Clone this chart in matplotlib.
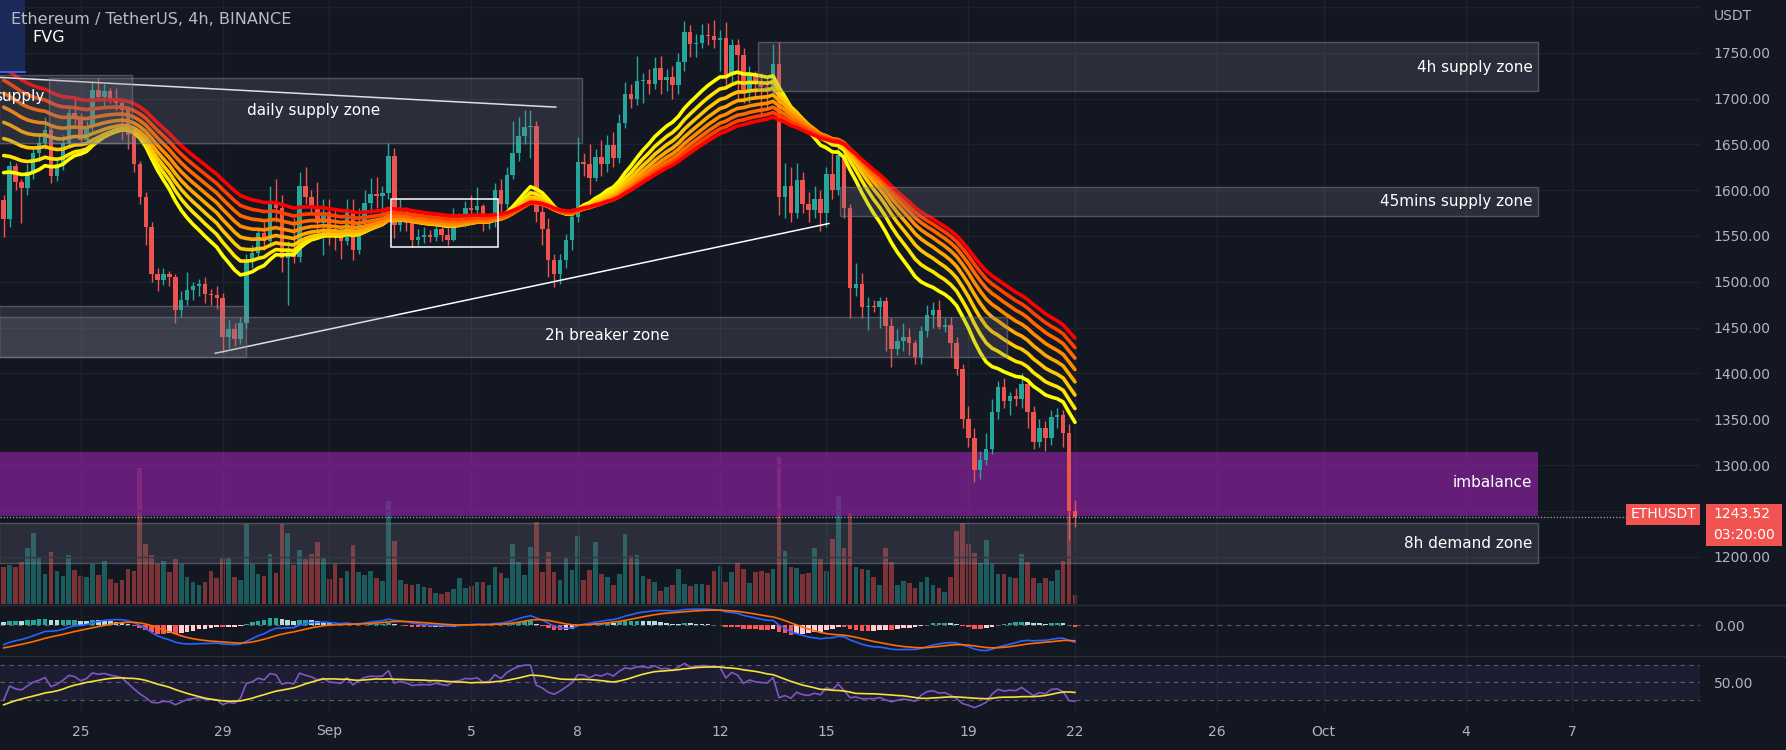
import numpy as np
import pandas as pd
import matplotlib
matplotlib.use("Agg")
import matplotlib.pyplot as plt
from matplotlib.patches import Rectangle
from matplotlib.lines import Line2D

plt.rcParams['font.family'] = ['DejaVu Sans']

BG = '#131722'
GRID = '#1e222d'
TXT = '#b2b5be'
UP = '#26a69a'
DN = '#ef5350'

# ETHUSDT 4h candles, 2022-08-22 20:00 -> 2022-09-22 00:00
# closes before the first visible candle (only used to warm up the indicators)
warmup_close = [1985, 1975, 1960, 1945, 1935, 1930,
                1920, 1900, 1910, 1890, 1905, 1900,
                1895, 1880, 1870, 1885, 1875, 1878,
                1870, 1860, 1840, 1830, 1835, 1830,
                1845, 1850, 1860, 1855, 1845, 1840,
                1800, 1740, 1680, 1640, 1620, 1610,
                1600, 1585, 1570, 1580, 1575, 1570,
                1580, 1600, 1610, 1620, 1615, 1620,
                1605, 1580, 1560, 1575, 1589]

close = [1568, 1626, 1609, 1602, 1620, 1640, 1651, 1666, 1615, 1628,
         1651, 1684, 1678, 1655, 1669, 1709, 1702, 1708, 1700, 1695,
         1688, 1660, 1629, 1593, 1560, 1508, 1502, 1509, 1505, 1469,
         1480, 1491, 1495, 1498, 1487, 1486, 1482, 1440, 1448, 1438,
         1455, 1522, 1531, 1553, 1544, 1586, 1580, 1526, 1535, 1527,
         1605, 1592, 1583, 1564, 1576, 1553, 1549, 1544, 1578, 1535,
         1564, 1586, 1596, 1594, 1597, 1637, 1562, 1575, 1564, 1546,
         1549, 1551, 1549, 1558, 1551, 1546, 1566, 1569, 1580, 1578,
         1583, 1566, 1569, 1600, 1585, 1617, 1640, 1659, 1669, 1670,
         1576, 1558, 1524, 1508, 1524, 1546, 1571, 1631, 1629, 1613,
         1636, 1629, 1649, 1635, 1673, 1705, 1700, 1719, 1720, 1716,
         1733, 1720, 1724, 1715, 1740, 1773, 1760, 1761, 1769, 1768,
         1764, 1766, 1726, 1758, 1747, 1707, 1726, 1717, 1713, 1711,
         1738, 1593, 1605, 1575, 1611, 1585, 1578, 1590, 1575, 1618,
         1600, 1638, 1580, 1493, 1498, 1473, 1474, 1472, 1479, 1452,
         1427, 1435, 1440, 1433, 1418, 1446, 1464, 1469, 1451, 1453,
         1433, 1405, 1350, 1330, 1295, 1305, 1318, 1358, 1385, 1370,
         1375, 1372, 1388, 1358, 1325, 1340, 1330, 1352, 1355, 1335,
         1250, 1243.52]

high = [1595, 1632, 1630, 1612, 1628, 1648, 1662, 1680, 1670, 1635,
        1660, 1690, 1700, 1684, 1676, 1718, 1722, 1716, 1712, 1712,
        1700, 1692, 1668, 1632, 1598, 1565, 1515, 1515, 1512, 1508,
        1490, 1511, 1500, 1503, 1505, 1492, 1495, 1488, 1458, 1455,
        1462, 1530, 1540, 1560, 1565, 1604, 1612, 1595, 1545, 1570,
        1620, 1625, 1600, 1609, 1590, 1590, 1580, 1560, 1590, 1590,
        1580, 1600, 1613, 1614, 1605, 1651, 1646, 1590, 1582, 1568,
        1558, 1560, 1556, 1563, 1565, 1560, 1580, 1575, 1588, 1595,
        1603, 1585, 1575, 1608, 1612, 1625, 1676, 1680, 1688, 1688,
        1675, 1590, 1570, 1530, 1530, 1552, 1580, 1658, 1640, 1650,
        1645, 1655, 1660, 1663, 1683, 1718, 1716, 1746, 1728, 1732,
        1745, 1746, 1732, 1735, 1750, 1785, 1780, 1770, 1781, 1782,
        1786, 1775, 1783, 1765, 1765, 1755, 1735, 1730, 1728, 1725,
        1760, 1762, 1630, 1625, 1630, 1620, 1598, 1605, 1600, 1625,
        1640, 1648, 1642, 1585, 1520, 1510, 1483, 1480, 1483, 1483,
        1460, 1448, 1455, 1450, 1436, 1452, 1475, 1478, 1480, 1460,
        1462, 1440, 1410, 1365, 1340, 1315, 1335, 1372, 1392, 1395,
        1380, 1384, 1400, 1395, 1365, 1350, 1348, 1360, 1362, 1360,
        1345, 1262]

low = [1549, 1560, 1600, 1564, 1595, 1612, 1632, 1645, 1608, 1610,
       1622, 1648, 1672, 1650, 1650, 1665, 1698, 1690, 1695, 1688,
       1655, 1645, 1620, 1585, 1540, 1500, 1490, 1497, 1495, 1455,
       1462, 1475, 1480, 1485, 1477, 1475, 1470, 1422, 1428, 1430,
       1432, 1450, 1515, 1525, 1535, 1538, 1565, 1511, 1475, 1520,
       1522, 1585, 1575, 1550, 1529, 1540, 1535, 1525, 1540, 1524,
       1530, 1560, 1575, 1580, 1575, 1590, 1548, 1555, 1555, 1538,
       1540, 1542, 1543, 1545, 1545, 1540, 1544, 1560, 1560, 1565,
       1570, 1555, 1558, 1560, 1575, 1580, 1612, 1632, 1650, 1635,
       1565, 1540, 1505, 1494, 1498, 1515, 1535, 1565, 1615, 1596,
       1610, 1615, 1620, 1625, 1630, 1668, 1690, 1693, 1695, 1705,
       1710, 1705, 1708, 1700, 1705, 1730, 1745, 1745, 1755, 1758,
       1755, 1730, 1712, 1718, 1700, 1695, 1695, 1700, 1680, 1690,
       1705, 1573, 1570, 1565, 1570, 1575, 1565, 1570, 1555, 1560,
       1590, 1595, 1570, 1460, 1485, 1460, 1447, 1467, 1450, 1425,
       1407, 1420, 1425, 1420, 1410, 1410, 1440, 1450, 1448, 1445,
       1418, 1398, 1340, 1320, 1281, 1285, 1300, 1312, 1350, 1362,
       1355, 1365, 1362, 1340, 1318, 1320, 1315, 1322, 1340, 1320,
       1218, 1232]

volume_k = [100, 105, 98, 112, 150, 190, 125, 80, 140, 88,
            75, 132, 90, 75, 72, 107, 78, 115, 67, 55,
            65, 95, 88, 365, 162, 132, 108, 115, 85, 122,
            107, 72, 58, 50, 58, 88, 70, 125, 125, 72,
            65, 215, 107, 80, 75, 135, 82, 215, 190, 105,
            145, 120, 135, 165, 125, 68, 108, 70, 88, 157,
            85, 77, 88, 70, 62, 275, 168, 65, 53, 50,
            53, 45, 42, 30, 28, 32, 40, 70, 42, 47,
            60, 58, 52, 98, 82, 70, 160, 112, 77, 153,
            220, 85, 140, 85, 65, 123, 90, 182, 65, 90,
            165, 80, 72, 52, 80, 188, 128, 132, 75, 67,
            60, 35, 45, 52, 93, 53, 47, 53, 53, 50,
            88, 103, 60, 85, 110, 93, 57, 87, 88, 82,
            95, 393, 142, 100, 97, 80, 82, 150, 120, 88,
            173, 290, 150, 243, 100, 95, 90, 72, 52, 150,
            112, 52, 63, 57, 42, 60, 72, 50, 42, 33,
            72, 195, 218, 162, 138, 110, 172, 108, 80, 80,
            72, 70, 135, 112, 70, 55, 70, 63, 92, 115,
            330, 25]

last_price = 1243.52

# x axis in days, Sep 1 00:00 = 1.0
tick_days = [-6, -2, 1, 5, 8, 12, 15, 19, 22, 26, 29, 33, 36]
tick_labels = ['25', '29', 'Sep', '5', '8', '12', '15', '19', '22', '26', 'Oct', '4', '7']
price_ticks = [1200, 1250, 1300, 1350, 1400, 1450, 1500, 1550, 1600, 1650, 1700, 1750, 1800]

# drawn zones: x from/to (days), price low/high
zone_x0 = [-8.3, -6.9, 13.08, 15.39, -8.3, -8.3, -8.3]
zone_x1 = [-4.54, 8.12, 35.04, 35.04, 20.1, -1.34, 35.04]
zone_lo = [1651, 1651, 1708, 1572, 1418, 1418, 1193]
zone_hi = [1726, 1722, 1762, 1603, 1462, 1474, 1237]
imb_x0, imb_x1, imb_lo, imb_hi = -8.3, 35.04, 1244, 1314

ribbon_spans = [20, 25, 30, 35, 40, 45, 50, 55]
ribbon_colors = ['#ffff00', '#ffe600', '#ffc800', '#ffaa00', '#ff8c00', '#ff6a00', '#ff4000', '#ff0000']

# ---------------------------------------------------------------
times = pd.date_range('2022-08-22 20:00', periods=len(close), freq='4h')
t = ((times - pd.Timestamp('2022-08-31')) / pd.Timedelta('1D')).to_numpy()
c = np.array(close, dtype=float)
o = np.r_[warmup_close[-1], c[:-1]]
hi_ = np.array(high, dtype=float)
lo_ = np.array(low, dtype=float)
up = c >= o
col = np.where(up, UP, DN)

full = pd.Series(np.r_[warmup_close, close], dtype=float)
n0 = len(warmup_close)

W, H = 1786, 750
fig = plt.figure(figsize=(W / 100, H / 100), dpi=100, facecolor=BG)


def panel(y0, y1):
    return [0, 1 - y1 / H, 1700 / W, (y1 - y0) / H]


ax = fig.add_axes(panel(0, 604))
axv = ax.twinx()
axm = fig.add_axes(panel(605, 655))
axr = fig.add_axes(panel(656, 712))

ax.set_zorder(2)
axv.set_zorder(1)
ax.patch.set_visible(False)
axv.patch.set_visible(False)
for a in (axm, axr):
    a.set_facecolor(BG)

XL = (-8.27, 39.6)
FS = 10

# volume
axv.bar(t, volume_k, width=0.13, color=col, alpha=0.48, lw=0)
axv.set_ylim(0, 1620)
axv.set_xlim(*XL)
axv.axis('off')

# candles
ax.vlines(t, lo_, hi_, colors=col, lw=1, zorder=3)
ax.bar(t, np.maximum(np.abs(c - o), 0.8), bottom=np.minimum(o, c), width=0.125,
       color=col, lw=0, zorder=3)

# EMA ribbon
for span, rc in zip(ribbon_spans, ribbon_colors):
    e = full.ewm(span=span, adjust=False).mean().to_numpy()[n0:]
    ax.plot(t, e, color=rc, lw=2.6, zorder=4, solid_capstyle='round')

# imbalance (purple)
ax.add_patch(Rectangle((imb_x0, imb_lo), imb_x1 - imb_x0, imb_hi - imb_lo,
                       facecolor='#88229d', alpha=0.7, lw=0, zorder=2))

# grey zones
for x0, x1, zl, zh in zip(zone_x0, zone_x1, zone_lo, zone_hi):
    ax.add_patch(Rectangle((x0, zl), x1 - x0, zh - zl,
                           facecolor=(0.47, 0.48, 0.53, 0.24),
                           edgecolor=(0.55, 0.56, 0.6, 0.45), lw=1, zorder=6))

# trend lines and range box
ax.plot([-8.26, 7.38], [1723, 1690.6], color='white', lw=1.1, zorder=5)
ax.plot([-2.21, 15.07], [1422, 1563.6], color='white', lw=1.1, zorder=5)
ax.add_patch(Rectangle((2.73, 1537.8), 3.01, 52.2, fill=False, edgecolor='white', lw=1.1, zorder=5))

# current price line
ax.axhline(last_price, color='#a0a3ab', ls=(0, (1, 1.5)), lw=0.9, zorder=5)

# zone labels
lab = dict(color='white', fontsize=11, zorder=7, va='center')
ax.text(-7.01, 1702, 'supply', ha='right', clip_on=True, **lab)
ax.text(0.55, 1687, 'daily supply zone', ha='center', **lab)
ax.text(34.88, 1734, '4h supply zone', ha='right', **lab)
ax.text(34.88, 1587.5, '45mins supply zone', ha='right', **lab)
ax.text(8.82, 1441, '2h breaker zone', ha='center', **lab)
ax.text(34.88, 1281, 'imbalance', ha='right', **lab)
ax.text(34.88, 1214, '8h demand zone', ha='right', **lab)

ax.set_xlim(*XL)
ax.set_ylim(1148.4, 1807.5)
ax.yaxis.tick_right()
ax.set_yticks(price_ticks)
ax.set_yticklabels(['%.2f' % p if p < 1800 else '' for p in price_ticks])
ax.set_xticks(tick_days)
ax.tick_params(axis='x', length=0, labelbottom=False)
ax.tick_params(axis='y', length=0, pad=10, labelcolor=TXT, labelsize=FS)
ax.grid(color=GRID, lw=1)
ax.set_axisbelow(True)

# MACD
ema12 = full.ewm(span=12, adjust=False).mean()
ema26 = full.ewm(span=26, adjust=False).mean()
macd = ema12 - ema26
sig = macd.ewm(span=9, adjust=False).mean()
hist = macd - sig
hprev = hist.shift(1)
hcol_full = np.where(hist >= 0,
                     np.where(hist >= hprev, '#26a69a', '#b2dfdb'),
                     np.where(hist >= hprev, '#ffcdd2', '#ff5252'))
hcol = hcol_full[n0:]
macd_v = macd.to_numpy()[n0:]
sig_v = sig.to_numpy()[n0:]
hist_v = hist.to_numpy()[n0:]
axm.bar(t, hist_v, width=0.13, color=hcol, lw=0, zorder=2)
axm.plot(t, macd_v, color='#2962ff', lw=1.2, zorder=3)
axm.plot(t, sig_v, color='#ff6d00', lw=1.2, zorder=3)
axm.axhline(0, color='#787b86', ls=(0, (4, 4)), lw=0.8, alpha=0.7, zorder=1)
mtop = 1.25 * max(macd_v.max(), sig_v.max())
axm.set_ylim(-mtop * 26 / 18, mtop)
axm.set_xlim(*XL)
axm.yaxis.tick_right()
axm.set_yticks([0])
axm.set_yticklabels(['0.00'])
axm.set_xticks(tick_days)
axm.tick_params(axis='x', length=0, labelbottom=False)
axm.tick_params(axis='y', length=0, pad=10, labelcolor=TXT, labelsize=FS)
axm.grid(axis='x', color=GRID, lw=1)
axm.set_axisbelow(True)

# RSI
dlt = full.diff()
gain = dlt.clip(lower=0).ewm(alpha=1 / 14, adjust=False).mean()
loss = (-dlt.clip(upper=0)).ewm(alpha=1 / 14, adjust=False).mean()
rsi = 100 - 100 / (1 + gain / loss)
rsi_ma = rsi.rolling(14).mean()
axr.axhspan(30, 70, color='#7e57c2', alpha=0.1, lw=0)
for lv in (70, 50, 30):
    axr.axhline(lv, color='#787b86', ls=(0, (4, 4)), lw=0.8, alpha=0.7)
axr.plot(t, rsi.to_numpy()[n0:], color='#7e57c2', lw=1.2, zorder=3)
axr.plot(t, rsi_ma.to_numpy()[n0:], color='#f5e33b', lw=1.2, zorder=3)
axr.set_ylim(16.5, 79.7)
axr.set_xlim(*XL)
axr.yaxis.tick_right()
axr.set_yticks([50])
axr.set_yticklabels(['50.00'])
axr.set_xticks(tick_days)
axr.set_xticklabels(tick_labels)
axr.tick_params(axis='x', length=0, pad=9, labelcolor=TXT, labelsize=FS)
axr.tick_params(axis='y', length=0, pad=10, labelcolor=TXT, labelsize=FS)
axr.grid(axis='x', color=GRID, lw=1)
axr.set_axisbelow(True)

for a in (ax, axm, axr):
    for s in a.spines.values():
        s.set_visible(False)

# panel separators
for yy in (604.5, 655.5):
    fig.add_artist(Line2D([0, 1], [1 - yy / H] * 2, transform=fig.transFigure, color='#2a2e39', lw=1))

# top-left header
fig.add_artist(Rectangle((0, 1 - 72 / H), 25 / W, 72 / H, transform=fig.transFigure,
                         facecolor='#1b2a58', lw=0, zorder=9))
fig.add_artist(Line2D([0, 25 / W], [1 - 72 / H] * 2, transform=fig.transFigure, color='#2f62e6',
                      lw=1.5, zorder=9))
fig.text(11 / W, 1 - 19 / H, 'Ethereum / TetherUS, 4h, BINANCE', color='#b8bbc3', fontsize=11.6,
         ha='left', va='center', zorder=10)
fig.text(32 / W, 1 - 38 / H, 'FVG', color='white', fontsize=11.5, ha='left', va='center', zorder=10)
fig.text(1714 / W, 1 - 16 / H, 'USDT', color=TXT, fontsize=FS, ha='left', va='center', zorder=10)

# last price labels
RED = '#f05350'
fig.add_artist(Rectangle((1626 / W, 1 - 525 / H), 74 / W, 21 / H, transform=fig.transFigure,
                         facecolor=RED, lw=0, zorder=9))
fig.add_artist(Rectangle((1706 / W, 1 - 546 / H), 76 / W, 42 / H, transform=fig.transFigure,
                         facecolor=RED, lw=0, zorder=9))
fig.text(1663 / W, 1 - 514.5 / H, 'ETHUSDT', color='white', fontsize=FS, ha='center', va='center', zorder=10)
fig.text(1713 / W, 1 - 514.5 / H, '%.2f' % last_price, color='white', fontsize=FS, ha='left',
         va='center', zorder=10)
fig.text(1713 / W, 1 - 535 / H, '03:20:00', color='white', fontsize=FS, ha='left', va='center', zorder=10)

fig.savefig('out.png', dpi=100, facecolor=BG)
